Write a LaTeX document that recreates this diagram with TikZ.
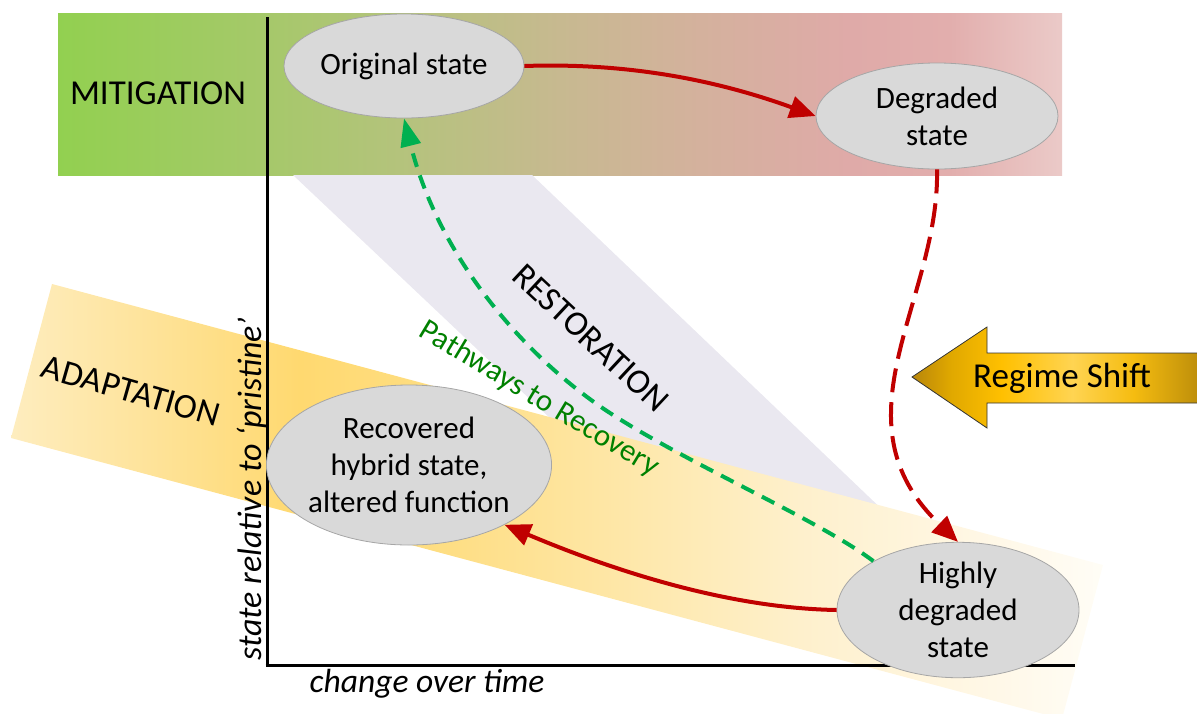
\documentclass[tikz,border=0pt]{standalone}
\usepackage{fontspec}
\setmainfont{Carlito}
\usetikzlibrary{arrows.meta,shapes.geometric}
\definecolor{mg0}{HTML}{92D050}
\definecolor{mg1}{HTML}{A4C968}
\definecolor{mg2}{HTML}{B4C37C}
\definecolor{mg3}{HTML}{C7B990}
\definecolor{mg4}{HTML}{D4B19D}
\definecolor{mg5}{HTML}{DFAAA8}
\definecolor{mg6}{HTML}{E2AEAD}
\definecolor{mg7}{HTML}{EBCAC8}
\definecolor{ad0}{HTML}{FEEDBF}
\definecolor{ad1}{HTML}{FEE39A}
\definecolor{ad2}{HTML}{FFD970}
\definecolor{ad3}{HTML}{FEDE84}
\definecolor{ad4}{HTML}{FEE6A4}
\definecolor{ad5}{HTML}{FEF0CC}
\definecolor{ad6}{HTML}{FFF8E8}
\definecolor{ad7}{HTML}{FFFDF6}
\definecolor{rs0}{HTML}{B8860B}
\definecolor{rs1}{HTML}{E0A800}
\definecolor{rs2}{HTML}{FFC000}
\definecolor{rs3}{HTML}{FFD452}
\definecolor{rs4}{HTML}{F5BC10}
\definecolor{rs5}{HTML}{B88A0A}
\definecolor{restcol}{HTML}{EAE8F0}
\definecolor{ellfill}{HTML}{D9D9D9}
\definecolor{ellborder}{HTML}{A6A6A6}
\definecolor{arred}{HTML}{C00000}
\definecolor{argreen}{HTML}{00B050}
\definecolor{pathgreen}{HTML}{008000}
\pgfdeclarehorizontalshading{mitig}{100bp}{color(0bp)=(mg0); color(25bp)=(mg0); color(34.6bp)=(mg1); color(42bp)=(mg2); color(50bp)=(mg3); color(57bp)=(mg4); color(64.4bp)=(mg5); color(69.4bp)=(mg6); color(75bp)=(mg7); color(100bp)=(mg7)}
\pgfdeclarehorizontalshading{adapt}{100bp}{color(0bp)=(ad0); color(25bp)=(ad0); color(31.3bp)=(ad1); color(38.2bp)=(ad2); color(45.1bp)=(ad3); color(52bp)=(ad4); color(61.1bp)=(ad5); color(70.3bp)=(ad6); color(75bp)=(ad7); color(100bp)=(ad7)}
\pgfdeclarehorizontalshading{regime}{100bp}{color(0bp)=(rs0); color(25bp)=(rs0); color(31.6bp)=(rs1); color(40.3bp)=(rs2); color(52.4bp)=(rs3); color(62.8bp)=(rs4); color(75bp)=(rs5); color(100bp)=(rs5)}
\tikzset{
  st/.style={ellipse, draw=ellborder, fill=ellfill, line width=0.8pt, inner sep=0pt, align=center, font=\fontsize{31}{37}\selectfont},
  lbl/.style={inner sep=0pt, font=\fontsize{35}{40}\selectfont},
  redarr/.style={draw=arred, line width=4pt, -{Triangle[length=26pt,width=22pt]}},
  greenarr/.style={draw=argreen, line width=4pt, dash pattern=on 14pt off 9pt, -{Triangle[length=28pt,width=20pt]}},
  axisline/.style={line width=3pt, draw=black}
}
\begin{document}
\begin{tikzpicture}[x=1pt,y=-1pt]
\useasboundingbox (0,0) rectangle (1197,713);
\clip (0,0) rectangle (1197,713);
% bands
\shade[shading=mitig] (58,13) rectangle (1062,175);
\fill[restcol] (293,175) -- (532,175) -- (935,560) -- (700,560) -- cycle;
\shade[shading=adapt] (52,284) -- (1103,565) -- (1062,719) -- (11,438) -- cycle;
% regime shift arrow
\shade[shading=regime, draw=black!80, line width=0.8pt] (912,377) -- (987,327) -- (987,353) -- (1205,353) -- (1205,403) -- (987,403) -- (987,428) -- cycle;
\node[lbl] (regime) at (1062,378) {Regime Shift};
% axes
\coordinate (ytop) at (267,17);
\coordinate (xend) at (1075,665);
\draw[axisline] (ytop) -- (267,666.5);
\draw[axisline] (265.5,665) -- (xend);
% states
\node[st, minimum width=240pt, minimum height=104pt] (orig) at (404,66) {Original state};
\node[st, minimum width=242pt, minimum height=106pt] (deg) at (937,116) {Degraded\\state};
\node[st, minimum width=272pt, minimum height=160pt] (rec) at (409,465) {Recovered\\hybrid state,\\altered function};
\node[st, minimum width=242pt, minimum height=116pt] (hds) at (958,610) {Highly\\degraded\\state};
% labels
\node[lbl] (mit) at (158,93) {MITIGATION};
\node[lbl, rotate=-16] (ada) at (131,391) {ADAPTATION};
\node[lbl, rotate=-43] (res) at (591,338) {RESTORATION};
\node[lbl, rotate=-31, text=pathgreen, font=\fontsize{31}{36}\selectfont] (path) at (539,399) {Pathways to Recovery};
\node[lbl, rotate=90, font=\fontsize{34}{40}\selectfont\itshape] (ylab) at (252,489) {state relative to ‘pristine’};
\node[lbl, font=\fontsize{33.5}{40}\selectfont\itshape] (xlab) at (427,684) {change over time};
% connectors
\coordinate (gmid) at (610,413);
\draw[redarr] (orig.east) .. controls (640,62) and (730,85) .. (deg.west);
\draw[redarr, dash pattern=on 24pt off 10pt] (deg.south) .. controls (940,300) and (830,420) .. (hds.north);
\draw[redarr] (hds.west) .. controls (720,608) and (600,565) .. (rec.-32);
\draw[greenarr] (hds.150) .. controls (819,520) and (690,465) .. (gmid) .. controls (530,361) and (440,262) .. (orig.south);
\end{tikzpicture}
\end{document}
